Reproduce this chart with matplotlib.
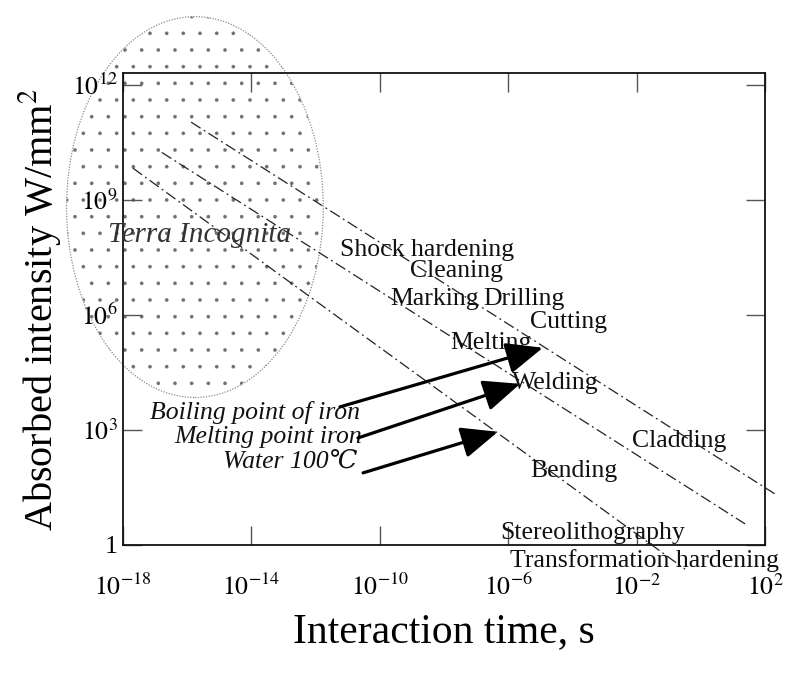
import numpy as np
import matplotlib
matplotlib.use("Agg")
import matplotlib.pyplot as plt
from matplotlib.patches import Ellipse

plt.rcParams['font.family'] = ['Liberation Serif', 'DejaVu Serif', 'DejaVu Sans']
plt.rcParams['mathtext.fontset'] = 'stix'
plt.rcParams['hatch.linewidth'] = 0.2

# ---- data (log10 exponents) ----
x_tick_exp = [-18, -14, -10, -6, -2, 2]
x_tick_labels = ['$10^{-18}$', '$10^{-14}$', '$10^{-10}$', '$10^{-6}$', '$10^{-2}$', '$10^{2}$']
y_tick_exp = [0, 3, 6, 9, 12]
y_tick_labels = ['1', '$10^{3}$', '$10^{6}$', '$10^{9}$', '$10^{12}$']

# dash-dot boundary lines: start/end (log10 time, log10 intensity)
line_t0 = [-15.88, -16.79, -17.69]
line_I0 = [11.02, 10.23, 9.82]
line_t1 = [2.31, 1.38, -0.49]
line_I1 = [1.33, 0.55, -0.63]

# process labels (left-aligned), log10 positions
proc_names = ['Shock hardening', 'Cleaning', 'Marking', 'Drilling', 'Cutting',
              'Melting', 'Welding', 'Cladding', 'Bending',
              'Stereolithography', 'Transformation hardening']
proc_t = [-11.24, -9.06, -9.68, -6.79, -5.32, -7.81, -5.88, -2.14, -5.32, -6.26, -5.94]
proc_I = [7.70, 7.15, 6.40, 6.40, 5.82, 5.27, 4.23, 2.72, 1.93, 0.30, -0.40]

# temperature arrows: label, tail (t, I), tip (t, I)
arrow_labels = ['Boiling point of iron', 'Melting point iron', 'Water 100\u2103']
arrow_tail_t = [-11.24, -10.68, -10.52]
arrow_tail_I = [3.60, 2.79, 1.88]
arrow_tip_t = [-4.92, -5.63, -6.32]
arrow_tip_I = [5.14, 4.20, 2.95]
arrow_label_t = [-10.62, -10.55, -10.71]
arrow_label_I = [3.45, 2.82, 2.17]

terra_label = 'Terra Incognita'
terra_t, terra_I = -15.6, 8.07

x_label = 'Interaction time, s'
y_label = 'Absorbed intensity W/mm$^{2}$'

# ---- figure ----
fig = plt.figure(figsize=(7.85, 6.73), dpi=100)
ax = fig.add_axes([0.1567, 0.1902, 0.8178, 0.7013])
ax.set_xscale('log')
ax.set_yscale('log')
ax.set_xlim(1e-18, 1e2)
ax.set_ylim(1, 10 ** 12.3)

# Terra incognita ellipse (axes fraction)
ell_fill = Ellipse((0.112, 0.716), 0.400, 0.807, transform=ax.transAxes,
                   facecolor='none', edgecolor='#707070', linewidth=0,
                   hatch='.', clip_on=False, zorder=1)
ax.add_patch(ell_fill)
ell_edge = Ellipse((0.112, 0.716), 0.400, 0.807, transform=ax.transAxes,
                   facecolor='none', edgecolor='#8a8a8a', linewidth=0.9,
                   linestyle=(0, (1, 1.2)), clip_on=False, zorder=1.1)
ax.add_patch(ell_edge)

for t0, i0, t1, i1 in zip(line_t0, line_I0, line_t1, line_I1):
    ax.plot([10 ** t0, 10 ** t1], [10 ** i0, 10 ** i1], color='#222222',
            linewidth=0.9, linestyle=(0, (9, 3, 1.5, 3)), clip_on=False, zorder=2)

fs = 18.5
for name, t, i in zip(proc_names, proc_t, proc_I):
    ax.text(10 ** t, 10 ** i, name, ha='left', va='center', fontsize=fs,
            color='#111111', zorder=3)

for lab, tt, ti, pt, pi, lt, li in zip(arrow_labels, arrow_tail_t, arrow_tail_I,
                                       arrow_tip_t, arrow_tip_I,
                                       arrow_label_t, arrow_label_I):
    ax.annotate('', xy=(10 ** pt, 10 ** pi), xytext=(10 ** tt, 10 ** ti),
                arrowprops=dict(arrowstyle='-|>,head_length=0.75,head_width=0.32',
                                mutation_scale=30, lw=2.3, color='black',
                                shrinkA=0, shrinkB=0), zorder=4)
    ax.text(10 ** lt, 10 ** li, lab, ha='right', va='center', fontsize=fs,
            style='italic', color='#111111', zorder=3)

ax.text(10 ** terra_t, 10 ** terra_I, terra_label, ha='center', va='center',
        fontsize=21, style='italic', color='#333333', zorder=3)

# axes styling
ax.set_xticks([10.0 ** e for e in x_tick_exp])
ax.set_xticklabels(x_tick_labels)
ax.set_yticks([10.0 ** e for e in y_tick_exp])
ax.set_yticklabels(y_tick_labels)
ax.minorticks_off()
ax.tick_params(axis='both', which='major', direction='in', length=14,
               width=1.0, color='#555555', labelsize=18.5, top=True, right=True)
ax.tick_params(axis='x', pad=21)
ax.tick_params(axis='y', pad=4)
for s in ax.spines.values():
    s.set_linewidth(1.3)
    s.set_color('#111111')

ax.set_xlabel(x_label, fontsize=30, labelpad=9)
ax.set_ylabel(y_label, fontsize=29, labelpad=6)

fig.savefig('out.png', dpi=100)
